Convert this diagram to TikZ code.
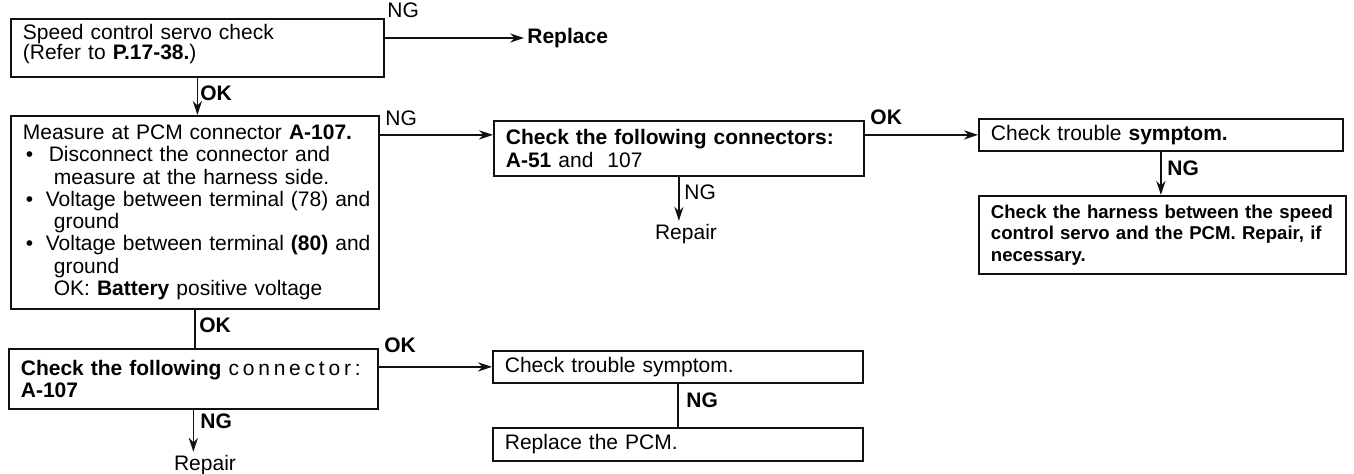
\documentclass[tikz,border=0pt]{standalone}
\usepackage{fontspec}
\setmainfont{Liberation Sans}
\newfontfamily\spacedfont[LetterSpace=18]{Liberation Sans}
\usetikzlibrary{arrows.meta,positioning}
\definecolor{ink}{HTML}{111111}
\newcommand{\fsz}{\fontsize{10.5}{11.15}\selectfont}
\newcommand{\itm}[1][6.3pt]{\hspace*{1.5pt}\textbullet\hspace*{#1}}
\tikzset{
  chkbox/.style={draw=ink,line width=0.9pt,anchor=north west,
                 align=left,inner xsep=6pt,inner ysep=2pt,font=\fsz},
  flowarr/.style={-{Stealth[length=7pt,width=4.6pt]},line width=0.8pt,color=ink},
  flowline/.style={line width=0.8pt,color=ink},
  tag/.style={anchor=west,inner sep=0pt,font=\fsz\bfseries},
  thintag/.style={anchor=west,inner sep=0pt,font=\fsz},
  result/.style={inner sep=1.5pt,font=\fsz}
}

\begin{document}
\begin{tikzpicture}[x=0.5pt,y=-0.5pt]
  \path[use as bounding box,fill=white] (0,0) rectangle (1354,474);
  % left column
  \node[chkbox,text width=174.5pt,minimum height=29pt,font=\fontsize{10.5}{10}\selectfont] (servo) at (10,18)
    {Speed control servo check\\(Refer to \textbf{P.17-38.})\\[-4pt]\mbox{}};
  \node[chkbox,text width=172pt,minimum height=96.5pt] (measure) at (10,115)
    {\mbox{Measure at PCM connector \textbf{A-107.}}\\
     \mbox{\itm[7.8pt]\makebox[159.5pt][s]{Disconnect the connector and}}\\
     \mbox{\hspace*{15.5pt}measure at the harness side.}\\
     \mbox{\itm Voltage between terminal (78) and}\\
     \mbox{\hspace*{15.5pt}ground}\\
     \mbox{\itm Voltage between terminal \textbf{(80)} and}\\
     \mbox{\hspace*{15.5pt}ground}\\
     \mbox{\hspace*{15.5pt}OK: \textbf{Battery} positive voltage}};
  \node[chkbox,text width=172.5pt,minimum height=30pt] (conn107) at (8,348)
    {\mbox{\textbf{Check the following} {\spacedfont connector:}}\\\textbf{A-107}};
  % middle column
  \node[chkbox,text width=173pt,minimum height=27.5pt] (conns) at (493,120)
    {\textbf{Check the following connectors:}\\\textbf{A-51} and~ 107};
  \node[chkbox,text width=173pt,minimum height=16pt] (symp2) at (492,350)
    {Check trouble symptom.};
  \node[chkbox,text width=173pt,minimum height=16.5pt] (pcm) at (492,427)
    {Replace the PCM.};
  % right column
  \node[chkbox,text width=170pt,minimum height=16pt] (symp) at (978,118)
    {Check trouble \textbf{symptom.}};
  \node[chkbox,text width=171.5pt,minimum height=39pt,font=\fontsize{9.3}{10.75}\selectfont\bfseries] (harness) at (978,195)
    {\makebox[169pt][s]{Check the harness between the speed}\\
     \makebox[169pt][s]{control servo and the PCM. Repair, if}\\
     necessary.};
  % ends
  \node[result,anchor=west] (replace) at (524,38) {\textbf{Replace}};
  \node[result] (repairA) at (686,234) {Repair};
  \node[result] (repairB) at (205,465) {Repair};
  \coordinate (conns in) at ([yshift=6.75pt]conns.west);
  % connectors
  \draw[flowarr] (servo.east |- replace.west) -- (replace.west);
  \draw[flowarr] (servo.south) -- (servo.south |- measure.north);
  \draw[flowarr] (measure.east |- conns in) -- (conns in);
  \draw[flowline] (measure.south) -- (measure.south |- conn107.north);
  \draw[flowarr] (conn107.south) -- (conn107.south |- repairB.north);
  \draw[flowarr] (conn107.east |- symp2.west) -- (symp2.west);
  \draw[flowline] (symp2.south) -- (symp2.south |- pcm.north);
  \draw[flowarr] (conns.south) -- (conns.south |- repairA.north);
  \draw[flowarr] (conns.east |- symp.west) -- (symp.west);
  \draw[flowarr] (symp.south) -- (symp.south |- harness.north);
  % labels
  \node[thintag] (ng1) at (387,10) {NG};
  \node[tag] (ok1) at (200,93) {OK};
  \node[thintag] (ng2) at (385,118) {NG};
  \node[tag] (ok2) at (870,117) {OK};
  \node[thintag] (ng3) at (684,192) {NG};
  \node[tag] (ng4) at (1167,168) {NG};
  \node[tag] (ok3) at (199,325) {OK};
  \node[tag] (ok4) at (384,345) {OK};
  \node[tag] (ng5) at (200,421) {NG};
  \node[tag] (ng6) at (686,400) {NG};
\end{tikzpicture}
\end{document}
